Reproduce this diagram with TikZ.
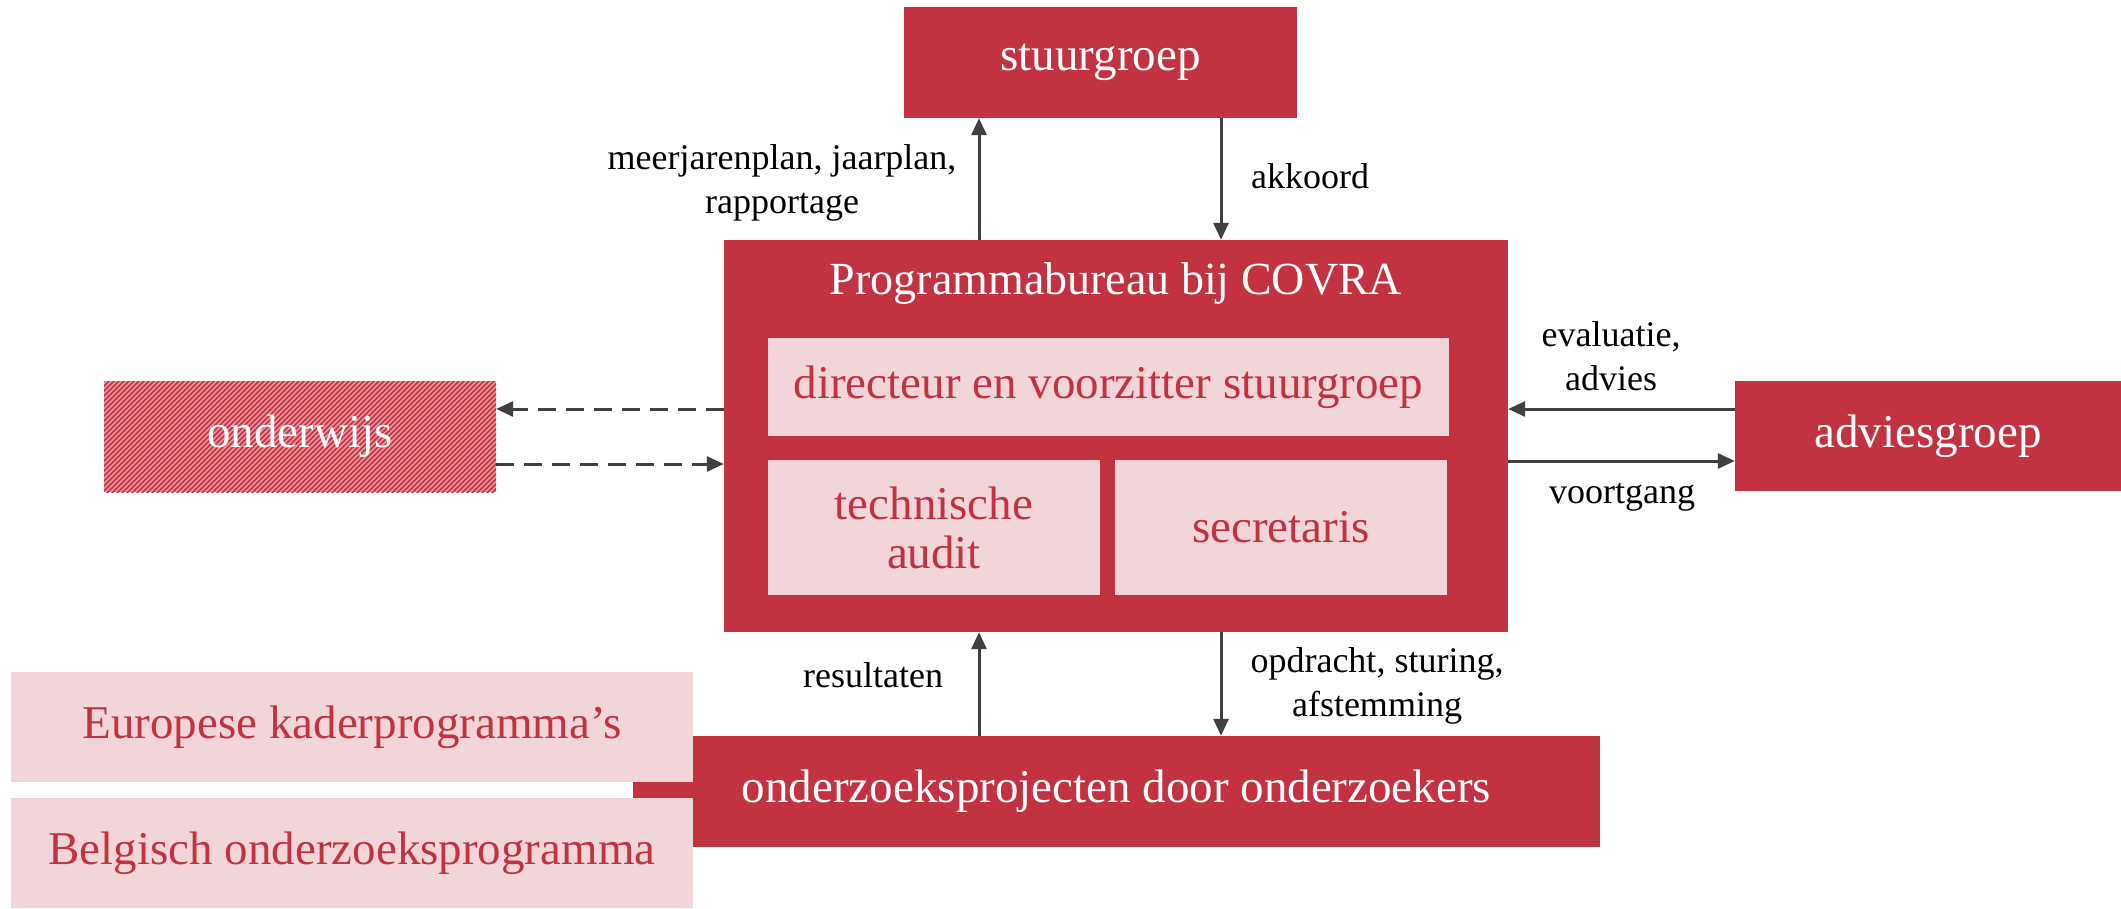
\documentclass[tikz,border=0pt]{standalone}
\usepackage{fontspec}
\setmainfont{Liberation Serif}
\usetikzlibrary{arrows.meta}
\definecolor{cred}{RGB}{195,50,64}
\definecolor{cpink}{RGB}{242,213,216}
\definecolor{cgray}{RGB}{64,64,64}
\definecolor{chatch}{RGB}{236,150,158}
\begin{document}
\begin{tikzpicture}[x=1pt,y=-1pt,
  redbox/.style={fill=cred, text=white, inner sep=0pt, align=center,
    font=\fontsize{47}{49}\selectfont},
  pinkbox/.style={fill=cpink, text=cred, inner sep=0pt, align=center,
    font=\fontsize{47}{49}\selectfont},
  lbl/.style={text=black, inner sep=0pt, align=center,
    font=\fontsize{36}{44}\selectfont},
  hatchline/.style={draw=cred, line width=1.6pt},
  arr/.style={draw=cgray, line width=3pt, -{Triangle[length=17pt,width=15pt]}},
  darr/.style={arr, dash pattern=on 18pt off 10pt}
]
\useasboundingbox (0,0) rectangle (2121,908);

% top
\node[redbox, minimum width=393pt, minimum height=111pt] (stuur) at (1100.5,62.5) {stuurgroep};

% main programme office
\node[fill=cred, inner sep=0pt, minimum width=784pt, minimum height=392pt] (main) at (1116,436) {};
\node[text=white, inner sep=0pt, anchor=base, font=\fontsize{46}{49}\selectfont] (title) at (1116,294) {Programmabureau bij COVRA};
\node[pinkbox, minimum width=681pt, minimum height=98pt] (dir) at (1108.5,387) {directeur en voorzitter stuurgroep};
\node[pinkbox, minimum width=332pt, minimum height=135pt] (tech) at (934,527.5) {technische\\audit};
\node[pinkbox, minimum width=332pt, minimum height=135pt] (secr) at (1281,527.5) {secretaris};

% left: onderwijs (hatched background, then text node on top)
\begin{scope}
  \clip (104,381) rectangle (496,492);
  \fill[chatch] (104,381) rectangle (496,492);
  \foreach \k in {0,...,102} {
    \draw[hatchline] (-10+5*\k,495) -- ++(116,-116);
  }
\end{scope}
\node[text=white, inner sep=0pt, align=center, font=\fontsize{47}{49}\selectfont,
  minimum width=392pt, minimum height=111pt] (onderwijs) at (300,436.5) {onderwijs};

% right: adviesgroep
\node[redbox, minimum width=386pt, minimum height=110pt] (advies) at (1928,436) {adviesgroep};

% bottom
\node[redbox, minimum width=967pt, minimum height=111pt] (onderzoek) at (1116.5,791.5) {onderzoeksprojecten door onderzoekers};
\node[pinkbox, minimum width=682pt, minimum height=110pt] (euro) at (352,727) {Europese kaderprogramma’s};
\node[pinkbox, minimum width=682pt, minimum height=110pt] (belg) at (352,853) {Belgisch onderzoeksprogramma};

% helper coordinates
\coordinate (xa) at (979,0);
\coordinate (xb) at (1221,0);
\coordinate (ya) at (0,409);
\coordinate (yb) at (0,464);
\coordinate (yc) at (0,461);

% arrows top
\draw[arr] (xa |- main.north) -- (xa |- stuur.south);
\draw[arr] (xb |- stuur.south) -- (xb |- main.north);
% arrows bottom
\draw[arr] (xa |- onderzoek.north) -- (xa |- main.south);
\draw[arr] (xb |- main.south) -- (xb |- onderzoek.north);
% arrows left (dashed)
\draw[darr] (main.west |- ya) -- (onderwijs.east |- ya);
\draw[darr] (onderwijs.east |- yb) -- (main.west |- yb);
% arrows right
\draw[arr] (advies.west |- ya) -- (main.east |- ya);
\draw[arr] (main.east |- yc) -- (advies.west |- yc);

% labels
\node[lbl] (l1) at (782,182.5) {meerjarenplan, jaarplan,\\rapportage};
\node[lbl, anchor=base] (l2) at (1310,188) {akkoord};
\node[lbl] (l3) at (1611,356) {evaluatie,\\advies};
\node[lbl, anchor=base] (l4) at (1622,503) {voortgang};
\node[lbl, anchor=base] (l5) at (873,687) {resultaten};
\node[lbl] (l6) at (1377,686) {opdracht, sturing,\\afstemming};
\end{tikzpicture}
\end{document}
